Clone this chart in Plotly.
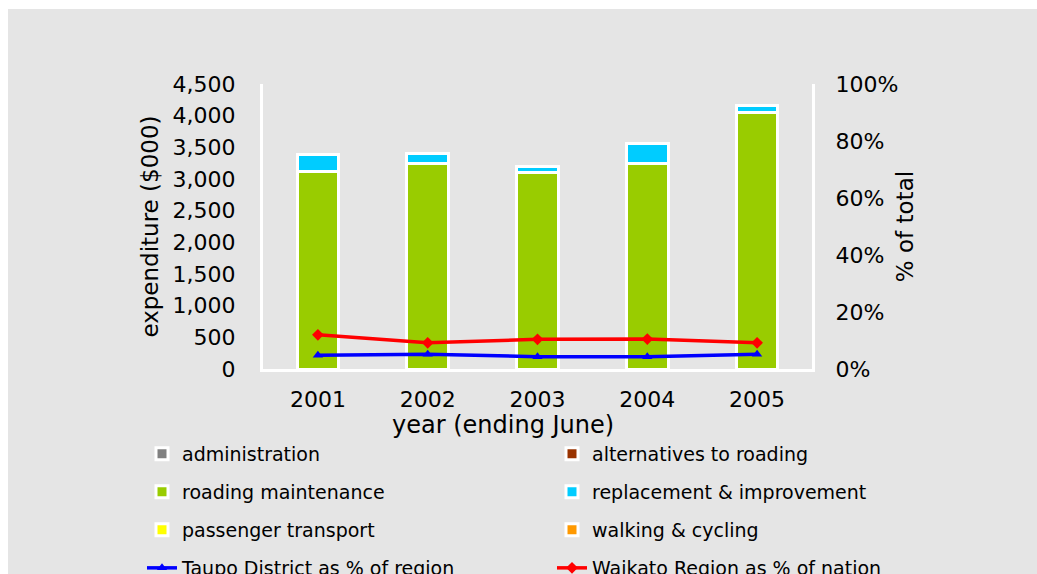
import plotly.graph_objects as go

years = ["2001", "2002", "2003", "2004", "2005"]
administration = [None, None, None, None, None]
alternatives = [None, None, None, None, None]
roading_maintenance = [3125, 3250, 3100, 3250, 4055]
replacement = [260, 145, 100, 310, 110]
passenger = [None, None, None, None, None]
walking = [None, None, None, None, None]
taupo_pct = [0.048, 0.052, 0.043, 0.043, 0.052]
waikato_pct = [0.120, 0.092, 0.104, 0.105, 0.092]

FONT = "DejaVu Sans"
BG = "#e5e5e5"

W, H = 1037, 574
L, R, T, B = 263, 812, 84, 369

def py(pix):
    return (B - pix) / (B - T)

def px(pix):
    return (pix - L) / (R - L)

fig = go.Figure()

bar_specs = [
    ("administration", administration, "#808080"),
    ("alternatives to roading", alternatives, "#993300"),
    ("roading maintenance", roading_maintenance, "#99cc00"),
    ("replacement & improvement", replacement, "#00ccff"),
    ("passenger transport", passenger, "#ffff00"),
    ("walking & cycling", walking, "#ff9900"),
]
legend_ids = ["legend", "legend2", "legend3", "legend4",
              "legend5", "legend6", "legend7", "legend8"]
for i, (name, vals, col) in enumerate(bar_specs):
    fig.add_trace(go.Bar(
        x=years, y=vals, name=name, legend=legend_ids[i],
        marker=dict(color=col, line=dict(color="white", width=3)),
        width=0.38,
    ))

fig.add_trace(go.Scatter(
    x=years, y=taupo_pct, name="Taupo District as % of region", yaxis="y2",
    legend=legend_ids[6], mode="lines+markers",
    line=dict(color="#0000ff", width=3.5),
    marker=dict(symbol="triangle-up", size=9, color="#0000ff"),
))
fig.add_trace(go.Scatter(
    x=years, y=waikato_pct, name="Waikato Region as % of nation", yaxis="y2",
    legend=legend_ids[7], mode="lines+markers",
    line=dict(color="#ff0000", width=3.5),
    marker=dict(symbol="diamond", size=9, color="#ff0000"),
))

row_y = [454, 492, 530, 568]
col_x = [142, 552]
legends = {}
for i, lid in enumerate(legend_ids):
    legends[lid] = dict(
        orientation="h", x=px(col_x[i % 2]), xanchor="left",
        y=py(row_y[i // 2]), yanchor="middle",
        bgcolor="rgba(0,0,0,0)",
        font=dict(family=FONT, size=19, color="#000000"),
    )

fig.update_layout(
    width=W, height=H,
    margin=dict(l=L, r=W - R, t=T, b=H - B, autoexpand=False),
    paper_bgcolor=BG, plot_bgcolor=BG,
    barmode="stack", bargap=0.62,
    font=dict(family=FONT, size=21, color="#000000"),
    showlegend=True,
    xaxis=dict(
        type="category", showgrid=False, showline=True, linecolor="white",
        linewidth=3, ticks="", ticklabelstandoff=9,
        tickfont=dict(size=22), zeroline=False,
    ),
    yaxis=dict(
        range=[0, 4500], dtick=500, tickformat=",", showgrid=False,
        showline=True, linecolor="white", linewidth=3, ticks="",
        ticklabelstandoff=20, zeroline=False, tickfont=dict(size=22),
        title=dict(text="expenditure ($000)", font=dict(size=23), standoff=8),
    ),
    yaxis2=dict(
        range=[0, 1], dtick=0.2, tickformat=".0%", overlaying="y", side="right",
        showgrid=False, showline=True, linecolor="white", linewidth=3,
        ticks="", ticklabelstandoff=16, zeroline=False, tickfont=dict(size=22),
        title=dict(text="% of total", font=dict(size=23), standoff=0),
    ),
    annotations=[dict(
        text="year (ending June)", xref="paper", yref="paper",
        x=px(503), y=py(425), xanchor="center", yanchor="middle",
        showarrow=False, font=dict(family=FONT, size=24, color="#000000"),
    )],
    shapes=[
        dict(type="rect", xref="paper", yref="paper", x0=px(-5), x1=px(8),
             y0=py(H + 5), y1=py(-5), fillcolor="white", line=dict(width=0),
             layer="below"),
        dict(type="rect", xref="paper", yref="paper", x0=px(-5), x1=px(W + 5),
             y0=py(9), y1=py(-5), fillcolor="white", line=dict(width=0),
             layer="below"),
    ],
    **legends,
)

fig.write_html("out.html")
